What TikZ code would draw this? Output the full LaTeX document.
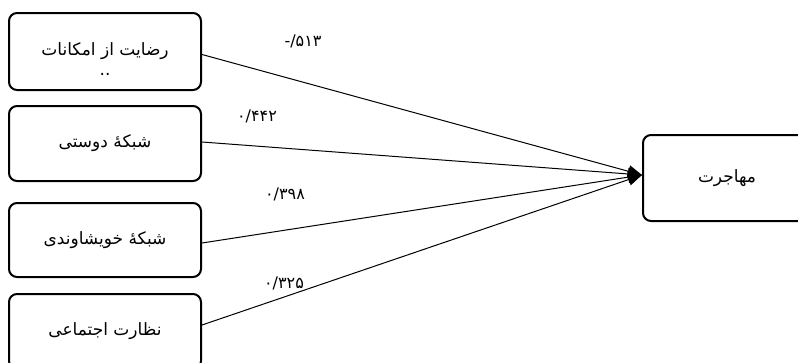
\documentclass[tikz,border=0pt]{standalone}
\usepackage{fontspec}
\TeXXeTstate=1
\newfontfamily\arabicfont[Script=Arabic]{DejaVu Sans}
\newfontfamily\numfont{DejaVu Sans}
\usetikzlibrary{arrows.meta}
\tikzset{
  box/.style={draw, line width=2pt, rounded corners=8pt, minimum width=192pt, align=center, font=\arabicfont\fontsize{17}{21}\selectfont, inner sep=0pt},
  conn/.style={line width=1pt, -{Triangle[length=14pt,width=12pt]}},
  val/.style={font=\numfont\fontsize{16}{18}\selectfont, inner sep=1pt}
}
\begin{document}
\begin{tikzpicture}[x=1pt,y=-1pt]
\useasboundingbox (0,0) rectangle (798,362);
\clip (0,0) rectangle (798,362);
\node[box, minimum height=77pt] (b1) at (105,51.5) {\rule{0pt}{27pt}\beginR رضایت از امکانات\endR\\[-1pt]..};
\node[box, minimum height=75pt] (b2) at (105,143.5) {\beginR شبکهٔ دوستی\endR};
\node[box, minimum height=74pt] (b3) at (105,240) {\beginR شبکهٔ خویشاوندی\endR};
\node[box, minimum height=75pt] (b4) at (105,331.5) {\beginR نظارت اجتماعی\endR};
\node[box, minimum width=168pt, minimum height=86pt] (t) at (727,178) {\beginR مهاجرت\endR};
\coordinate (tip) at ([yshift=3pt]t.west);
\draw[conn] ([yshift=-3pt]b1.east) -- (tip);
\draw[conn] ([yshift=1.5pt]b2.east) -- (tip);
\draw[conn] ([yshift=-3pt]b3.east) -- (tip);
\draw[conn] ([yshift=6.5pt]b4.east) -- (tip);
\node[val] (v1) at (303,41) {-/۵۱۳};
\node[val] (v2) at (257,116) {۰/۴۴۲};
\node[val] (v3) at (285,194) {۰/۳۹۸};
\node[val] (v4) at (284,283) {۰/۳۲۵};
\end{tikzpicture}
\end{document}
